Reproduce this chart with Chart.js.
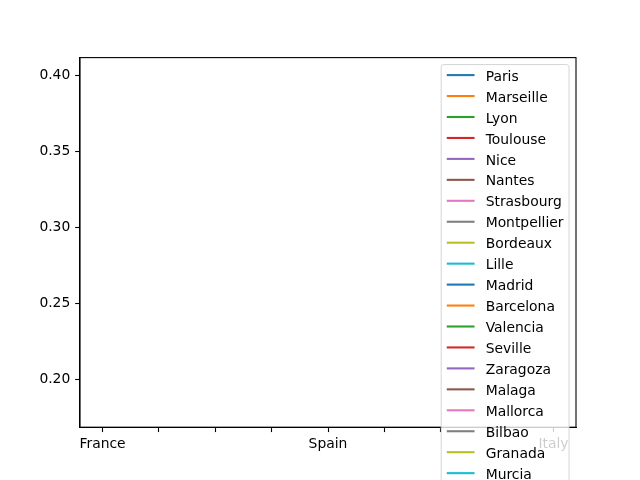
<!DOCTYPE html>
<html>
<head>
<meta charset="utf-8">
<script src="https://cdn.jsdelivr.net/npm/chart.js@4.4.0/dist/chart.umd.min.js"></script>
<style>
html,body{margin:0;padding:0;background:#fff;}
#wrap{width:640px;height:480px;position:relative;}
</style>
</head>
<body>
<div id="wrap"><canvas id="c" width="640" height="480"></canvas></div>
<script>
// ---- data ----
const xTickLabels = ['France', '', '', '', 'Spain', '', '', '', 'Italy'];
const yTicks = [0.20, 0.25, 0.30, 0.35, 0.40];
const franceCities = ['Paris', 'Marseille', 'Lyon', 'Toulouse', 'Nice', 'Nantes', 'Strasbourg', 'Montpellier', 'Bordeaux', 'Lille'];
const spainCities = ['Madrid', 'Barcelona', 'Valencia', 'Seville', 'Zaragoza', 'Malaga', 'Mallorca', 'Bilbao', 'Granada', 'Murcia'];
const italyCities = ['Rome', 'Milan', 'Naples', 'Turin', 'Palermo', 'Genoa', 'Bologna', 'Florence', 'Bari', 'Catania'];
// single-point series (no visible line is drawn for a one-point series)
const franceValues = [0.39, 0.25, 0.28, 0.22, 0.31, 0.24, 0.27, 0.23, 0.26, 0.21];
const spainValues = [0.33, 0.30, 0.24, 0.20, 0.22, 0.26, 0.35, 0.29, 0.19, 0.18];
const italyValues = [0.36, 0.34, 0.21, 0.27, 0.19, 0.25, 0.30, 0.32, 0.20, 0.23];
const countryX = [0, 4, 8];
const yMin = 0.1684, yMax = 0.4118;
const xMin = -0.4, xMax = 8.4;

const palette = ['#1f77b4', '#ff7f0e', '#2ca02c', '#d62728', '#9467bd', '#8c564b', '#e377c2', '#7f7f7f', '#bcbd22', '#17becf'];
const FONT = 'DejaVu Sans';
const FS = 13.89;

const groups = [[franceCities, franceValues], [spainCities, spainValues], [italyCities, italyValues]];
const datasets = [];
groups.forEach((g, gi) => {
  g[0].forEach((name, i) => {
    datasets.push({
      label: name,
      data: [{x: countryX[gi], y: g[1][i]}],
      borderColor: palette[i % 10],
      backgroundColor: palette[i % 10],
      borderWidth: 2.08,
      pointRadius: 0,
      pointHoverRadius: 0,
      showLine: true
    });
  });
});

const framePlugin = {
  id: 'frame',
  afterDatasetsDraw(chart) {
    const a = chart.chartArea, ctx = chart.ctx;
    ctx.save();
    ctx.strokeStyle = '#000';
    ctx.lineWidth = 1.1;
    ctx.strokeRect(a.left, a.top, a.right - a.left, a.bottom - a.top);
    ctx.restore();
  }
};

const legendPlugin = {
  id: 'mplLegend',
  afterDraw(chart) {
    const ctx = chart.ctx, a = chart.chartArea;
    const ds = chart.data.datasets;
    ctx.save();
    ctx.font = FS + 'px "' + FONT + '"';
    let maxW = 0;
    ds.forEach(d => { maxW = Math.max(maxW, ctx.measureText(d.label).width); });
    const pad = 5.56, handleLen = 27.8, textPad = 11.1, axPad = 6.94, rowH = 14.0, spacing = 6.95;
    const w = pad * 2 + handleLen + textPad + maxW;
    const h = pad * 2 + ds.length * rowH + (ds.length - 1) * spacing;
    const x0 = a.right - axPad - w, y0 = a.top + axPad;
    const r = 2.78;
    ctx.beginPath();
    ctx.moveTo(x0 + r, y0);
    ctx.lineTo(x0 + w - r, y0);
    ctx.quadraticCurveTo(x0 + w, y0, x0 + w, y0 + r);
    ctx.lineTo(x0 + w, y0 + h - r);
    ctx.quadraticCurveTo(x0 + w, y0 + h, x0 + w - r, y0 + h);
    ctx.lineTo(x0 + r, y0 + h);
    ctx.quadraticCurveTo(x0, y0 + h, x0, y0 + h - r);
    ctx.lineTo(x0, y0 + r);
    ctx.quadraticCurveTo(x0, y0, x0 + r, y0);
    ctx.closePath();
    ctx.fillStyle = 'rgba(255,255,255,0.8)';
    ctx.fill();
    ctx.strokeStyle = 'rgba(204,204,204,0.8)';
    ctx.lineWidth = 1.0;
    ctx.stroke();
    ctx.textBaseline = 'middle';
    ctx.textAlign = 'left';
    ds.forEach((d, i) => {
      const cy = y0 + pad + i * (rowH + spacing) + rowH / 2 - 2;
      ctx.strokeStyle = d.borderColor;
      ctx.lineWidth = 2.08;
      ctx.beginPath();
      ctx.moveTo(x0 + pad, cy);
      ctx.lineTo(x0 + pad + handleLen, cy);
      ctx.stroke();
      ctx.fillStyle = '#000';
      ctx.fillText(d.label, x0 + pad + handleLen + textPad, cy + 2);
    });
    ctx.restore();
  }
};

new Chart(document.getElementById('c'), {
  type: 'line',
  data: {datasets},
  options: {
    responsive: false,
    animation: false,
    devicePixelRatio: 1,
    layout: {padding: {left: 0, top: 57.6, right: 64, bottom: 0}},
    plugins: {legend: {display: false}, tooltip: {enabled: false}},
    scales: {
      x: {
        type: 'linear',
        min: xMin, max: xMax,
        afterBuildTicks(scale) { scale.ticks = xTickLabels.map((_, i) => ({value: i})); },
        afterFit(scale) { scale.height = 52.8; },
        ticks: {
          autoSkip: false, maxRotation: 0, padding: 4.5,
          color: '#000', font: {family: FONT, size: FS},
          callback: (v) => xTickLabels[v] !== undefined ? xTickLabels[v] : ''
        },
        grid: {display: true, drawOnChartArea: false, drawTicks: true, tickLength: 4.86, tickColor: '#000', tickWidth: 1.1},
        border: {display: true, color: '#000', width: 1.1}
      },
      y: {
        type: 'linear',
        min: yMin, max: yMax,
        afterBuildTicks(scale) { scale.ticks = yTicks.map(v => ({value: v})); },
        afterFit(scale) { scale.width = 80; },
        ticks: {
          padding: 4.86, color: '#000', font: {family: FONT, size: FS},
          callback: (v) => v.toFixed(2)
        },
        grid: {display: true, drawOnChartArea: false, drawTicks: true, tickLength: 4.86, tickColor: '#000', tickWidth: 1.1},
        border: {display: true, color: '#000', width: 1.1}
      }
    }
  },
  plugins: [framePlugin, legendPlugin]
});
</script>
</body>
</html>
